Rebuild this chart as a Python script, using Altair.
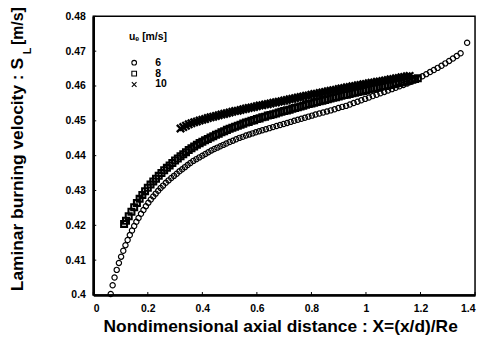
import altair as alt
import pandas as pd

SERIES = ["6", "8", "10"]

X6 = [0.064, 0.071, 0.078, 0.086, 0.094, 0.102, 0.110, 0.118, 0.126, 0.134, 0.142, 0.150, 0.158, 0.166,
      0.175, 0.184, 0.193, 0.202, 0.211, 0.220, 0.229, 0.238, 0.247, 0.256, 0.266, 0.276, 0.286, 0.296,
      0.306, 0.316, 0.326, 0.336, 0.346, 0.356, 0.367, 0.378, 0.389, 0.400, 0.411, 0.422, 0.433, 0.444,
      0.455, 0.466, 0.477, 0.488, 0.500, 0.512, 0.524, 0.536, 0.548, 0.560, 0.572, 0.584, 0.596, 0.608,
      0.620, 0.633, 0.646, 0.659, 0.672, 0.685, 0.698, 0.711, 0.724, 0.737, 0.750, 0.763, 0.776, 0.789,
      0.802, 0.815, 0.829, 0.843, 0.857, 0.871, 0.885, 0.899, 0.913, 0.927, 0.941, 0.955, 0.969, 0.983,
      0.997, 1.011, 1.025, 1.039, 1.053, 1.067, 1.081, 1.095, 1.109, 1.123, 1.137, 1.151, 1.165, 1.179,
      1.193, 1.207, 1.221, 1.235, 1.249, 1.263, 1.277, 1.291, 1.305, 1.319, 1.333, 1.347, 1.371]
Y6 = [0.4003, 0.4028, 0.4050, 0.4072, 0.4092, 0.4110, 0.4127, 0.4143, 0.4158, 0.4172, 0.4185, 0.4198, 0.4210, 0.4221,
      0.4233, 0.4244, 0.4255, 0.4265, 0.4274, 0.4283, 0.4291, 0.4299, 0.4307, 0.4314, 0.4322, 0.4329, 0.4336, 0.4342,
      0.4348, 0.4355, 0.4361, 0.4367, 0.4373, 0.4379, 0.4385, 0.4390, 0.4395, 0.4400, 0.4405, 0.4410, 0.4415, 0.4419,
      0.4423, 0.4427, 0.4431, 0.4435, 0.4439, 0.4443, 0.4447, 0.4451, 0.4454, 0.4458, 0.4461, 0.4464, 0.4467, 0.4470,
      0.4473, 0.4476, 0.4479, 0.4482, 0.4485, 0.4488, 0.4491, 0.4494, 0.4497, 0.4500, 0.4503, 0.4506, 0.4509, 0.4512,
      0.4515, 0.4518, 0.4521, 0.4524, 0.4527, 0.4530, 0.4533, 0.4537, 0.4540, 0.4543, 0.4547, 0.4551, 0.4555, 0.4559,
      0.4563, 0.4567, 0.4571, 0.4575, 0.4579, 0.4583, 0.4587, 0.4591, 0.4595, 0.4599, 0.4603, 0.4607, 0.4612, 0.4617,
      0.4622, 0.4628, 0.4634, 0.4640, 0.4646, 0.4652, 0.4658, 0.4665, 0.4672, 0.4679, 0.4686, 0.4694, 0.4724]

X8 = [0.113, 0.12, 0.13, 0.14, 0.15, 0.16, 0.17, 0.18, 0.19, 0.20, 0.21, 0.22, 0.23, 0.24, 0.25, 0.26, 0.27,
      0.28, 0.29, 0.30, 0.31, 0.32, 0.33, 0.34, 0.35, 0.36, 0.37, 0.38, 0.39, 0.40, 0.41, 0.42, 0.43, 0.44,
      0.45, 0.46, 0.47, 0.48, 0.49, 0.50, 0.51, 0.52, 0.53, 0.54, 0.55, 0.56, 0.57, 0.58, 0.59, 0.60, 0.61,
      0.62, 0.63, 0.64, 0.65, 0.66, 0.67, 0.68, 0.69, 0.70, 0.71, 0.72, 0.73, 0.74, 0.75, 0.76, 0.77, 0.78,
      0.79, 0.80, 0.81, 0.82, 0.83, 0.84, 0.85, 0.86, 0.87, 0.88, 0.89, 0.90, 0.91, 0.92, 0.93, 0.94, 0.95,
      0.96, 0.97, 0.98, 0.99, 1.00, 1.01, 1.02, 1.03, 1.04, 1.05, 1.06, 1.07, 1.08, 1.09, 1.10, 1.11, 1.12,
      1.13, 1.14, 1.15, 1.16, 1.17, 1.18, 1.19]
Y8 = [0.4204, 0.4213, 0.4226, 0.4239, 0.4252, 0.4264, 0.4276, 0.4287, 0.4298, 0.4308, 0.4317, 0.4326, 0.4334, 0.4342,
      0.4350, 0.4358, 0.4365, 0.4372, 0.4379, 0.4386, 0.4392, 0.4398, 0.4404, 0.4410, 0.4416, 0.4421, 0.4426, 0.4431,
      0.4436, 0.4440, 0.4444, 0.4448, 0.4452, 0.4456, 0.4460, 0.4463, 0.4467, 0.4470, 0.4474, 0.4477, 0.4480, 0.4483,
      0.4486, 0.4489, 0.4492, 0.4495, 0.4497, 0.4500, 0.4502, 0.4505, 0.4507, 0.4510, 0.4512, 0.4515, 0.4517, 0.4519,
      0.4521, 0.4524, 0.4526, 0.4528, 0.4530, 0.4532, 0.4535, 0.4537, 0.4539, 0.4541, 0.4543, 0.4546, 0.4548, 0.4550,
      0.4552, 0.4554, 0.4556, 0.4558, 0.4560, 0.4562, 0.4564, 0.4566, 0.4568, 0.4570, 0.4572, 0.4574, 0.4575, 0.4577,
      0.4579, 0.4581, 0.4583, 0.4584, 0.4586, 0.4588, 0.4590, 0.4592, 0.4593, 0.4595, 0.4597, 0.4599, 0.4600, 0.4602,
      0.4603, 0.4605, 0.4607, 0.4609, 0.4610, 0.4612, 0.4614, 0.4616, 0.4618, 0.4620, 0.4622]

X10 = [0.32, 0.33, 0.34, 0.35, 0.36, 0.37, 0.38, 0.39, 0.40, 0.41, 0.42, 0.43, 0.44, 0.45, 0.46, 0.47, 0.48,
       0.49, 0.50, 0.51, 0.52, 0.53, 0.54, 0.55, 0.56, 0.57, 0.58, 0.59, 0.60, 0.61, 0.62, 0.63, 0.64, 0.65,
       0.66, 0.67, 0.68, 0.69, 0.70, 0.71, 0.72, 0.73, 0.74, 0.75, 0.76, 0.77, 0.78, 0.79, 0.80, 0.81, 0.82,
       0.83, 0.84, 0.85, 0.86, 0.87, 0.88, 0.89, 0.90, 0.91, 0.92, 0.93, 0.94, 0.95, 0.96, 0.97, 0.98, 0.99,
       1.00, 1.01, 1.02, 1.03, 1.04, 1.05, 1.06, 1.07, 1.08, 1.09, 1.10, 1.11, 1.12, 1.13, 1.14, 1.15, 1.16]
Y10 = [0.4478, 0.4482, 0.4486, 0.4490, 0.4493, 0.4496, 0.4498, 0.4501, 0.4503, 0.4505, 0.4508, 0.4510, 0.4512, 0.4514,
       0.4516, 0.4518, 0.4520, 0.4522, 0.4524, 0.4526, 0.4528, 0.4529, 0.4531, 0.4533, 0.4535, 0.4537, 0.4538, 0.4540,
       0.4542, 0.4544, 0.4545, 0.4547, 0.4548, 0.4550, 0.4552, 0.4553, 0.4555, 0.4556, 0.4558, 0.4560, 0.4562, 0.4563,
       0.4565, 0.4567, 0.4568, 0.4570, 0.4572, 0.4573, 0.4575, 0.4577, 0.4578, 0.4580, 0.4581, 0.4583, 0.4585, 0.4586,
       0.4588, 0.4589, 0.4591, 0.4593, 0.4594, 0.4596, 0.4597, 0.4599, 0.4600, 0.4602, 0.4603, 0.4605, 0.4606, 0.4608,
       0.4609, 0.4610, 0.4612, 0.4613, 0.4614, 0.4616, 0.4617, 0.4619, 0.4620, 0.4622, 0.4623, 0.4625, 0.4626, 0.4628,
       0.4629]

XTICKS = [0, 0.2, 0.4, 0.6, 0.8, 1.0, 1.2, 1.4]
YTICKS = [0.40, 0.41, 0.42, 0.43, 0.44, 0.45, 0.46, 0.47, 0.48]

X_TITLE = "Nondimensional axial distance : X=(x/d)/Re"
Y_TITLE_MAIN = "Laminar burning velocity : S"
Y_TITLE_SUB = "L"
Y_TITLE_UNIT = "[m/s]"
LEGEND_TITLE = "uₑ [m/s]"

W, H = 385, 281
FONT = "Liberation Sans"
CROSS = "M-1,-1L1,1M1,-1L-1,1"
xscale = alt.Scale(domain=[0, 1.4], nice=False, zero=False)
yscale = alt.Scale(domain=[0.4, 0.48], nice=False, zero=False)
shape_scale = alt.Scale(domain=SERIES, range=["circle", "square", CROSS])
xaxis = alt.Axis(values=XTICKS, format="~g", title=None, labelPadding=9)
yaxis = alt.Axis(values=YTICKS, format="~g", title=None, labelPadding=8)
legend = alt.Legend(title=LEGEND_TITLE, orient="none", legendX=36, legendY=16,
                    titleFont=FONT, titleFontSize=10.5, titleFontWeight="bold",
                    titleColor="black", titlePadding=15,
                    labelFont=FONT, labelFontSize=10.5, labelFontWeight="bold",
                    labelColor="black", labelOffset=16, rowPadding=0,
                    symbolSize=22, symbolStrokeWidth=1.1, symbolStrokeColor="black",
                    symbolFillColor="transparent", padding=0)

STYLE = {"6": (28, 1.2), "8": (36, 2.1), "10": (55, 2.4)}

layers = []
for s, xs, ys in zip(SERIES, [X6, X8, X10], [Y6, Y8, Y10]):
    d = pd.DataFrame({"u": [s] * len(xs), "X": xs, "SL": ys})
    size, sw = STYLE[s]
    layers.append(alt.Chart(d).mark_point(filled=False, color="black", opacity=1, size=size,
                                          strokeWidth=sw).encode(
        x=alt.X("X:Q", scale=xscale, axis=xaxis),
        y=alt.Y("SL:Q", scale=yscale, axis=yaxis),
        shape=alt.Shape("u:N", scale=shape_scale, legend=legend),
    ))

xt = alt.Chart(pd.DataFrame({"X": XTICKS})).mark_rule(color="black", strokeWidth=1).encode(
    x=alt.X("X:Q", scale=xscale, axis=xaxis), y=alt.value(H), y2=alt.value(H - 3))
yt = alt.Chart(pd.DataFrame({"SL": YTICKS})).mark_rule(color="black", strokeWidth=1).encode(
    y=alt.Y("SL:Q", scale=yscale, axis=yaxis), x=alt.value(0), x2=alt.value(3))

def label(text, **kw):
    pos = {k: alt.value(kw.pop(k)) for k in ["x", "y"]}
    return alt.Chart(pd.DataFrame({"t": [text]})).mark_text(
        font=FONT, fontWeight="bold", color="black", **kw).encode(text="t:N", **pos)

xtitle = label(X_TITLE, x=189, y=318, fontSize=17.5, align="center", baseline="alphabetic")
ymain = label(Y_TITLE_MAIN, x=-71, y=42, fontSize=17.5, angle=270, align="right", baseline="alphabetic")
ysub = label(Y_TITLE_SUB, x=-63, y=35, fontSize=11, angle=270, align="center", baseline="alphabetic")
yunit = label(Y_TITLE_UNIT, x=-71, y=29, fontSize=16, angle=270, align="left", baseline="alphabetic")

chart = alt.layer(*layers, xt, yt, xtitle, ymain, ysub, yunit).properties(
    width=W, height=H,
    autosize=alt.AutoSizeParams(type="none"),
    padding={"left": 86, "top": 7, "right": 4, "bottom": 44},
).configure_view(stroke="black", strokeWidth=1.5).configure_axis(
    domainColor="black", domainWidth=2.5, ticks=False, grid=False,
    labelFont=FONT, labelFontWeight="bold", labelFontSize=10.5, labelColor="black",
)

chart.save("out.html", embed_options={"renderer": "svg", "actions": False})
